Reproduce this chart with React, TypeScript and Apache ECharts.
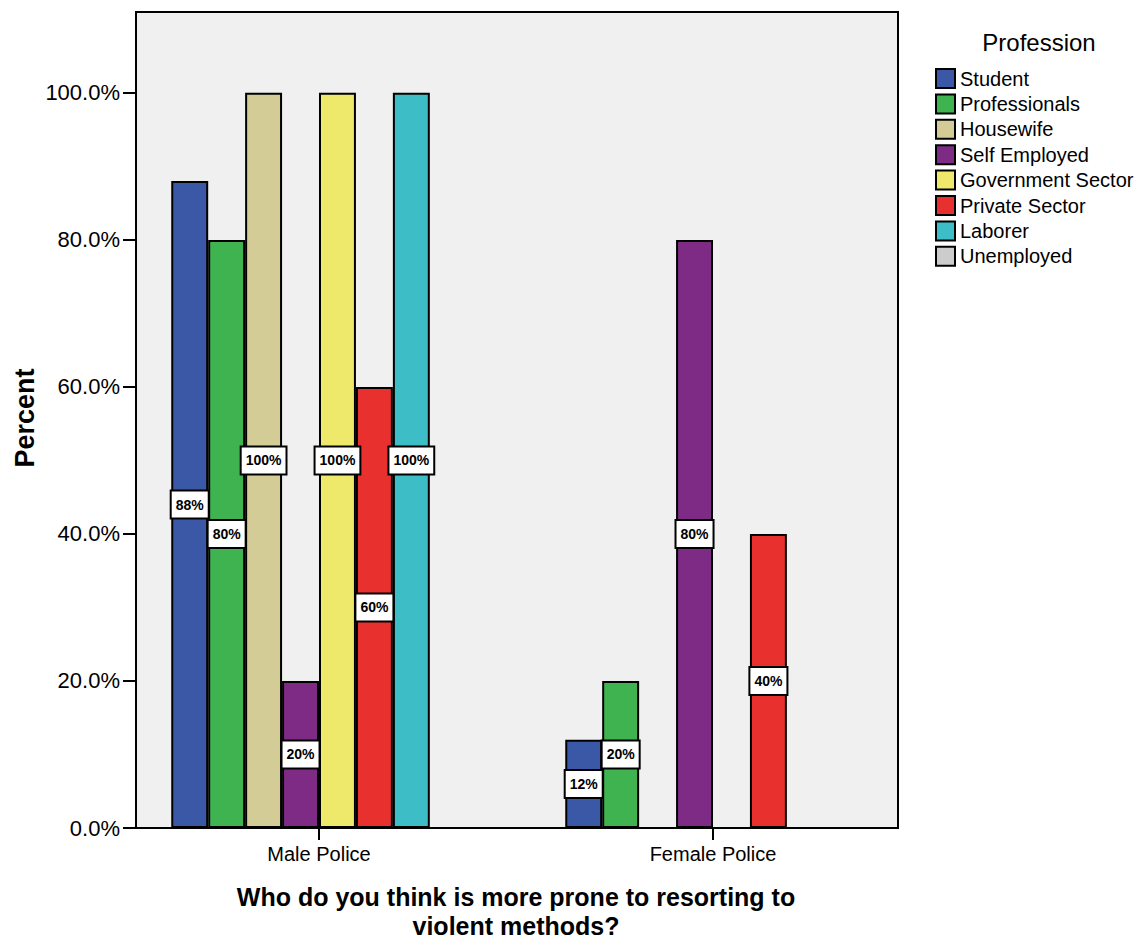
import React, { useEffect, useRef } from "react";
import * as echarts from "echarts";

const categories = ["Male Police", "Female Police"];
const professions = [
  "Student",
  "Professionals",
  "Housewife",
  "Self Employed",
  "Government Sector",
  "Private Sector",
  "Laborer",
  "Unemployed",
];
const colors = ["#3b58a7", "#3fb34f", "#d3cc96", "#7e2b86", "#eee96b", "#e8302f", "#3dbdc5", "#cccccc"];

const student = [88, 12];
const professionals = [80, 20];
const housewife = [100, null];
const selfEmployed = [20, 80];
const governmentSector = [100, null];
const privateSector = [60, 40];
const laborer = [100, null];
const unemployed = [null, null];
const seriesValues = [student, professionals, housewife, selfEmployed, governmentSector, privateSector, laborer, unemployed];

const yTicks = [0, 20, 40, 60, 80, 100];

const FONT = 'Arial, "Liberation Sans", sans-serif';

export default function App() {
  const ref = useRef<HTMLDivElement>(null);
  useEffect(() => {
    if (!ref.current) return;
    const chart = echarts.init(ref.current, undefined, { renderer: "svg" });
    const series = professions.map((name, i) => ({
      type: "bar",
      name,
      data: seriesValues[i],
      barGap: "0%",
      barCategoryGap: "25%",
      itemStyle: { color: colors[i], borderColor: "#000", borderWidth: 2 },
      emphasis: { disabled: true },
      label: {
        show: true,
        position: "inside",
        formatter: (p: any) => (p.value == null ? "" : p.value + "%"),
        backgroundColor: "#fff",
        borderColor: "#000",
        borderWidth: 2,
        padding: [5, 4],
        fontSize: 14,
        lineHeight: 16,
        fontWeight: "bold",
        fontFamily: FONT,
        color: "#000",
      },
    }));
    chart.setOption({
      animation: false,
      backgroundColor: "#fff",
      textStyle: { fontFamily: FONT },
      grid: { left: 122, right: 238, top: 12, bottom: 116, containLabel: false },
      xAxis: {
        type: "category",
        data: categories,
        axisLine: { show: false },
        axisTick: { show: true, alignWithLabel: true, length: 12, lineStyle: { color: "#000", width: 2 } },
        axisLabel: { fontSize: 20, color: "#000", margin: 16, fontFamily: FONT },
        splitLine: { show: false },
      },
      yAxis: {
        type: "value",
        min: 0,
        max: 111,
        interval: 20,
        offset: -14,
        axisLine: { show: false },
        axisTick: {
          show: true,
          length: 13,
          inside: false,
          customValues: yTicks,
          lineStyle: { color: "#000", width: 2 },
        },
        axisLabel: {
          fontSize: 22,
          color: "#000",
          margin: 16,
          fontFamily: FONT,
          customValues: yTicks,
          formatter: (v: number) => (yTicks.includes(v) ? v.toFixed(1) + "%" : ""),
        },
        splitLine: { show: false },
      },
      legend: {
        data: professions,
        orient: "vertical",
        left: 935,
        top: 68,
        padding: 0,
        itemWidth: 19,
        itemHeight: 19,
        itemGap: 4.4,
        icon: "rect",
        itemStyle: { borderColor: "#000", borderWidth: 2 },
        textStyle: { fontSize: 20, color: "#000", lineHeight: 19, fontFamily: FONT, padding: [0, 0, 0, 0] },
        selectedMode: false,
      },
      graphic: [
        {
          type: "rect",
          z: -10,
          shape: { x: 136, y: 12, width: 762, height: 816 },
          style: { fill: "#eff0ef", stroke: "none" },
          silent: true,
        },
        {
          type: "rect",
          z: 100,
          shape: { x: 136, y: 12, width: 762, height: 816 },
          style: { fill: "none", stroke: "#000", lineWidth: 2 },
          silent: true,
        },
        {
          type: "text",
          x: 1039,
          y: 42,
          style: { text: "Profession", font: `24px ${FONT}`, fill: "#000", align: "center", verticalAlign: "middle" },
        },
        {
          type: "text",
          x: 25,
          y: 418,
          rotation: Math.PI / 2,
          style: { text: "Percent", font: `bold 27px ${FONT}`, fill: "#000", align: "center", verticalAlign: "middle" },
        },
        {
          type: "text",
          x: 516,
          y: 897,
          style: {
            text: "Who do you think is more prone to resorting to",
            font: `bold 25px ${FONT}`,
            fill: "#000",
            align: "center",
            verticalAlign: "middle",
          },
        },
        {
          type: "text",
          x: 516,
          y: 926,
          style: {
            text: "violent methods?",
            font: `bold 25px ${FONT}`,
            fill: "#000",
            align: "center",
            verticalAlign: "middle",
          },
        },
      ],
      series,
    });
    return () => chart.dispose();
  }, []);
  return <div ref={ref} style={{ position: "absolute", left: 0, top: 0, width: 1148, height: 944 }} />;
}
